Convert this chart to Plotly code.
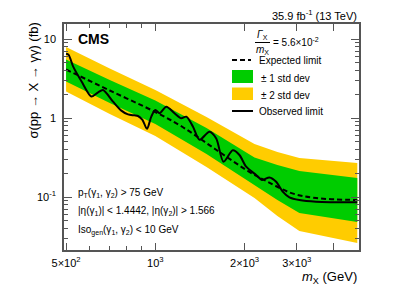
import plotly.graph_objects as go

# ---------------- data ----------------
band_mass = [500, 702, 1000, 1488, 2160, 2581, 3061, 4800]
band_2up = [7.92, 4.23, 2.26, 1.03, 0.469, 0.371, 0.312, 0.269]
band_1up = [5.50, 3.03, 1.67, 0.747, 0.316, 0.254, 0.213, 0.174]
band_1dn = [2.90, 1.55, 0.84, 0.350, 0.142, 0.0916, 0.0627, 0.0483]
band_2dn = [2.16, 1.12, 0.592, 0.240, 0.0971, 0.0575, 0.0371, 0.0262]

exp_mass = [500, 702, 1000, 1236, 1608, 2080, 2370, 2880, 3485, 4800]
exp_limit = [4.11, 2.23, 1.19, 0.769, 0.394, 0.207, 0.159, 0.112, 0.097, 0.0916]

obs_mass = [500, 510, 528, 564, 609, 640, 666, 720, 768, 809, 850, 874, 905, 937,
            970, 1000, 1034, 1089, 1161, 1223, 1272, 1339, 1410, 1523, 1605, 1698,
            1825, 1922, 2025, 2188, 2293, 2426, 2556, 2690, 2833, 3061, 3484, 4800]
obs_limit = [6.5, 6.3, 4.5, 2.9, 1.87, 2.1, 2.26, 1.61, 1.24, 1.11, 1.08, 1.06, 0.95, 0.73,
             1.05, 1.26, 1.15, 1.39, 1.15, 0.99, 1.04, 0.78, 0.53, 0.67, 0.55, 0.28,
             0.39, 0.34, 0.242, 0.190, 0.164, 0.177, 0.156, 0.117, 0.099, 0.0916, 0.0872, 0.0857]

x_tickvals = [500, 1000, 2000, 3000, 4000]
x_ticktext = ["5×10<sup>2</sup>", "10<sup>3</sup>", "2×10<sup>3</sup>", "3×10<sup>3</sup>", ""]
x_minor = [600, 700, 800, 900]
y_tickvals = [0.1, 1, 10]
y_ticktext = ["10<sup>-1</sup>", "1", "10"]
y_minor = [m * d for d in (0.01, 0.1, 1) for m in range(2, 10)]

# ---------------- layout helpers ----------------
W, H = 399, 286
L, R, T, B = 64, 359, 24, 250
def PX(x):
    return (x - L) / (R - L)
def PY(y):
    return (B - y) / (B - T)

FONT = "Liberation Sans"
GREEN = "#00cc00"
YELLOW = "#ffcc00"

fig = go.Figure()
fig.add_trace(go.Scatter(x=band_mass + band_mass[::-1], y=band_2up + band_2dn[::-1],
                         fill="toself", fillcolor=YELLOW, line=dict(width=0, color=YELLOW),
                         mode="lines", hoverinfo="skip", showlegend=False))
fig.add_trace(go.Scatter(x=band_mass + band_mass[::-1], y=band_1up + band_1dn[::-1],
                         fill="toself", fillcolor=GREEN, line=dict(width=0, color=GREEN),
                         mode="lines", hoverinfo="skip", showlegend=False))
fig.add_trace(go.Scatter(x=exp_mass, y=exp_limit, mode="lines",
                         line=dict(color="black", width=2, dash="5px,3px", shape="spline"),
                         showlegend=False))
fig.add_trace(go.Scatter(x=obs_mass, y=obs_limit, mode="lines",
                         line=dict(color="black", width=2, shape="spline", smoothing=0.8),
                         showlegend=False))

axcol = "#555555"
fig.update_xaxes(type="log", range=[2.692, 3.687], tickmode="array", tickvals=x_tickvals,
                 ticktext=x_ticktext, ticks="inside", ticklen=7, tickwidth=1, tickcolor=axcol,
                 minor=dict(tickmode="array", tickvals=x_minor, ticks="inside", ticklen=4,
                            tickcolor=axcol, showgrid=False),
                 showline=True, linecolor=axcol, linewidth=1.5, mirror="allticks",
                 showgrid=False, zeroline=False, ticklabelstandoff=2,
                 tickfont=dict(family=FONT, size=11, color="black"))
fig.update_yaxes(type="log", range=[-1.671, 1.190], tickmode="array", tickvals=y_tickvals,
                 ticktext=y_ticktext, ticks="inside", ticklen=8, tickwidth=1, tickcolor=axcol,
                 minor=dict(tickmode="array", tickvals=y_minor, ticks="inside", ticklen=4,
                            tickcolor=axcol, showgrid=False),
                 showline=True, linecolor=axcol, linewidth=1.5, mirror="allticks",
                 showgrid=False, zeroline=False, ticklabelstandoff=4,
                 tickfont=dict(family=FONT, size=11, color="black"))

ann = []
def text(x, y, s, size=10, xanchor="left", **kw):
    ann.append(dict(x=PX(x), y=PY(y), xref="paper", yref="paper", text=s, showarrow=False,
                    xanchor=xanchor, yanchor="middle", font=dict(family=FONT, size=size, color="black"),
                    **kw))

text(359, 15, "35.9 fb<sup>-1</sup> (13 TeV)", size=11, xanchor="right")
text(76, 39, "<b>CMS</b>", size=14)
text(262.5, 35, "<i>Γ</i><sub>X</sub>", size=10, xanchor="center")
text(262.5, 50, "<i>m</i><sub>X</sub>", size=10, xanchor="center")
text(271, 42.5, "= 5.6×10<sup>-2</sup>", size=10)
text(257, 60, "Expected limit", size=10)
text(259, 78, "± 1 std dev", size=10)
text(259, 95, "± 2 std dev", size=10)
text(257, 111, "Observed limit", size=10)
text(76, 193, "p<sub>T</sub>(γ<sub>1</sub>, γ<sub>2</sub>) > 75 GeV", size=10)
text(76, 211, "|η(γ<sub>1</sub>)| < 1.4442, |η(γ<sub>2</sub>)| > 1.566", size=10)
text(76, 230, "Iso<sub>gen</sub>(γ<sub>1</sub>, γ<sub>2</sub>) < 10 GeV", size=10)
text(359, 277, "<i>m</i><sub>X</sub> (GeV)", size=13, xanchor="right")
text(33, 80.5, "σ(pp → X → γγ) (fb)", size=13, xanchor="center", textangle=-90)

shapes = [
    dict(type="line", xref="paper", yref="paper", x0=PX(255), x1=PX(270), y0=PY(42.5), y1=PY(42.5),
         line=dict(color="black", width=1)),
    dict(type="line", xref="paper", yref="paper", x0=PX(232), x1=PX(251), y0=PY(60), y1=PY(60),
         line=dict(color="black", width=2, dash="5px,3px")),
    dict(type="rect", xref="paper", yref="paper", x0=PX(232), x1=PX(253), y0=PY(83), y1=PY(70),
         fillcolor=GREEN, line=dict(width=0)),
    dict(type="rect", xref="paper", yref="paper", x0=PX(232), x1=PX(253), y0=PY(100), y1=PY(87.5),
         fillcolor=YELLOW, line=dict(width=0)),
    dict(type="line", xref="paper", yref="paper", x0=PX(232), x1=PX(253), y0=PY(111), y1=PY(111),
         line=dict(color="black", width=2)),
]

fig.update_layout(width=W, height=H, margin=dict(l=L, r=W - R, t=T, b=H - B, pad=0),
                  paper_bgcolor="white", plot_bgcolor="white", showlegend=False,
                  annotations=ann, shapes=shapes, font=dict(family=FONT))

fig.write_html("out.html", config={"displayModeBar": False},
               post_script="document.body.style.margin='0';document.body.style.padding='0';")
